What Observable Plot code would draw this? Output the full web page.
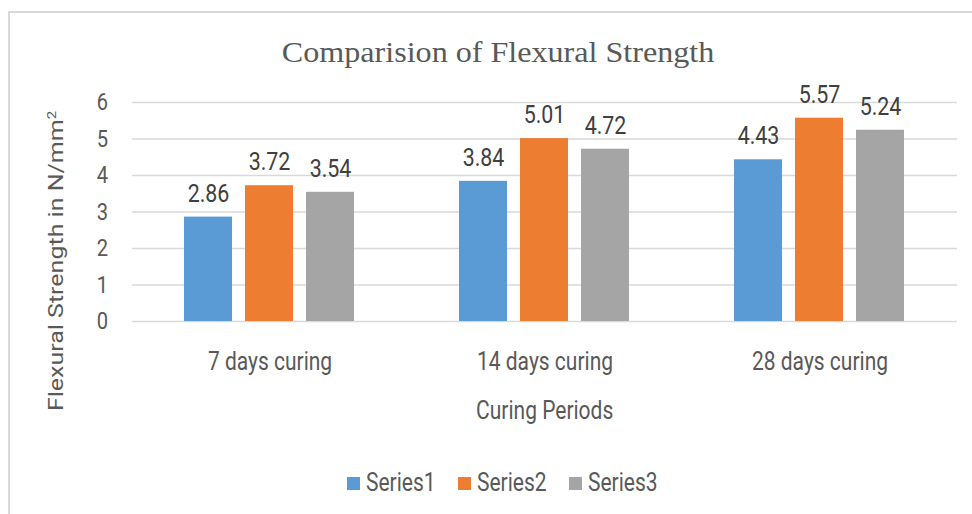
<!DOCTYPE html>
<html>
<head>
<meta charset="utf-8">
<script src="https://cdn.jsdelivr.net/npm/d3@7"></script>
<script src="https://cdn.jsdelivr.net/npm/@observablehq/plot@0.6"></script>
<style>
  html, body { margin: 0; padding: 0; background: #fff; }
  #wrap { position: relative; width: 972px; height: 514px; overflow: hidden; font-family: Roboto, "Liberation Sans", sans-serif; color: #595959; }
  #frame { position: absolute; left: 8px; top: 11px; width: 1000px; height: 600px; border: 2px solid #d9d9d9; box-sizing: border-box; }
  #title { position: absolute; left: 0; width: 996px; top: 35px; text-align: center; font-family: "Liberation Serif", "Times New Roman", serif; font-size: 30px; color: #595959; line-height: 34px; white-space: nowrap; }
  #title span { display: inline-block; transform: scaleX(1.07); transform-origin: center; }
  #chart { position: absolute; left: 0; top: 0; }
  #ylabel { position: absolute; left: 56px; top: 261px; transform: translate(-50%, -50%) rotate(-90deg) scaleY(0.84); white-space: nowrap; font-size: 25px; line-height: 30px; }
  #ylabel sup { font-size: 15px; vertical-align: 0.55em; line-height: 0; }
  #xlabel { position: absolute; left: 132px; width: 825px; top: 396px; text-align: center; font-size: 25px; line-height: 30px; }
  #xlabel span { display: inline-block; transform: scaleX(0.84); transform-origin: center; }
  #legend { position: absolute; left: 347px; top: 467.5px; display: flex; font-size: 25px; line-height: 30px; }
  #legend .item { display: inline-flex; align-items: center; width: 111px; }
  #legend .sw { display: inline-block; width: 13px; height: 13px; margin-right: 6px; margin-top: 2px; }
  #legend .lt { display: inline-block; transform: scaleX(0.84); transform-origin: left center; }
</style>
</head>
<body>
<div id="wrap">
  <div id="frame"></div>
  <div id="title"><span>Comparision of Flexural Strength</span></div>
  <div id="chart"></div>
  <div id="ylabel">Flexural Strength in N/mm<sup>2</sup></div>
  <div id="xlabel"><span>Curing Periods</span></div>
  <div id="legend"></div>
</div>
<script>
const periods = ["7 days curing", "14 days curing", "28 days curing"];
const seriesNames = ["Series1", "Series2", "Series3"];
const series1 = [2.86, 3.84, 4.43];
const series2 = [3.72, 5.01, 5.57];
const series3 = [3.54, 4.72, 5.24];
const colors = ["#5B9BD5", "#ED7D31", "#A5A5A5"];
const yTicks = [0, 1, 2, 3, 4, 5, 6];

const allSeries = [series1, series2, series3];
const data = [];
periods.forEach((p, i) => {
  seriesNames.forEach((s, j) => {
    data.push({period: p, series: s, value: allSeries[j][i]});
  });
});

const chart = Plot.plot({
  width: 972,
  height: 430,
  marginLeft: 132,
  marginRight: 15,
  marginTop: 102,
  marginBottom: 109,
  style: {fontFamily: "Roboto, 'Liberation Sans', sans-serif", color: "#595959", background: "transparent"},
  fx: {domain: periods, padding: 0, label: null},
  x: {domain: seriesNames, paddingInner: 0.213, paddingOuter: 0.86, axis: null},
  y: {domain: [0, 6], label: null},
  color: {domain: seriesNames, range: colors},
  marks: [
    Plot.ruleY(yTicks, {stroke: "#d9d9d9", strokeWidth: 1.5}),
    Plot.barY(data, {fx: "period", x: "series", y: "value", fill: "series"}),
    Plot.text(data, {fx: "period", x: "series", y: "value", text: d => d.value.toFixed(2), lineAnchor: "bottom", dy: -15.5, fontSize: 25.5, fill: "#404040"}),
    Plot.axisY({ticks: yTicks, tickSize: 0, tickPadding: 24.5, fontSize: 24, label: null, tickFormat: d => String(d)}),
    Plot.axisFx({anchor: "bottom", tickSize: 0, tickPadding: 30.5, fontSize: 25, label: null})
  ]
});
// horizontally condense the sans-serif labels around their anchor points
chart.querySelectorAll("text").forEach(t => {
  const x = +t.getAttribute("x") || 0;
  const y = +t.getAttribute("y") || 0;
  const tr = t.getAttribute("transform") || "";
  t.setAttribute("transform", `${tr} translate(${x},${y}) scale(0.84,1) translate(${-x},${-y})`);
});
document.getElementById("chart").appendChild(chart);

const legend = document.getElementById("legend");
seriesNames.forEach((s, j) => {
  const item = document.createElement("span");
  item.className = "item";
  const sw = document.createElement("span");
  sw.className = "sw";
  sw.style.background = colors[j];
  item.appendChild(sw);
  const t = document.createElement("span");
  t.className = "lt";
  t.textContent = s;
  item.appendChild(t);
  legend.appendChild(item);
});
</script>
</body>
</html>
